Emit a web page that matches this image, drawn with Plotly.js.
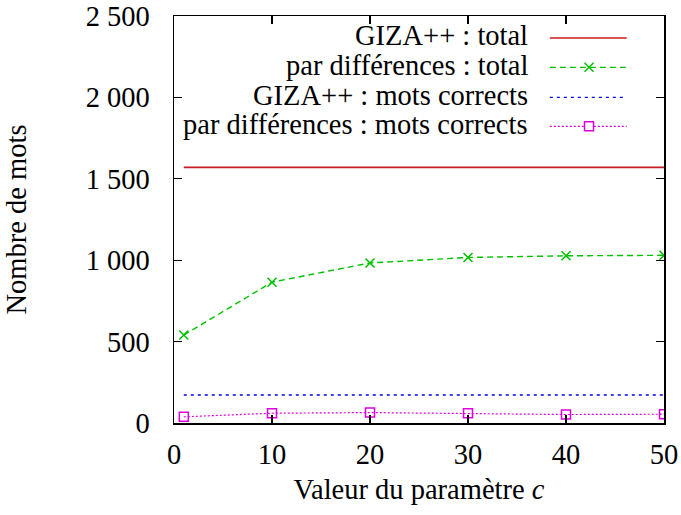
<!DOCTYPE html>
<html>
<head>
<meta charset="utf-8">
<script src="https://cdn.plot.ly/plotly-3.0.1.min.js"></script>
<style>html,body{margin:0;padding:0;background:#fff;}#chart{width:681px;height:515px;}</style>
</head>
<body>
<div id="chart"></div>
<script>
// Data
const cValues = [1, 10, 20, 30, 40, 50];
const gizaTotal = [1570, 1570, 1570, 1570, 1570, 1570];
const diffTotal = [540, 865, 983, 1017, 1027, 1030];
const gizaCorrect = [172, 172, 172, 172, 172, 172];
const diffCorrect = [38, 60, 64, 60, 52, 54];
const seriesNames = [
  "GIZA++ : total",
  "par différences : total",
  "GIZA++ : mots corrects",
  "par différences : mots corrects"
];
const xTickVals = [0, 10, 20, 30, 40, 50];
const yTickVals = [0, 500, 1000, 1500, 2000, 2500];

const FONT = "Liberation Serif";
const FS = 28.5;
const colors = ["#c81e1e", "#00c000", "#0000ee", "#dd00dd"];

const traces = [
  {x: cValues, y: gizaTotal, mode: "lines", name: seriesNames[0],
   line: {color: colors[0], width: 1.6, dash: "solid"}},
  {x: cValues, y: diffTotal, mode: "lines+markers", name: seriesNames[1],
   line: {color: colors[1], width: 1.4, dash: "6px,4px"},
   marker: {symbol: "x-thin-open", size: 9, color: colors[1], line: {color: colors[1], width: 1.5}}},
  {x: cValues, y: gizaCorrect, mode: "lines", name: seriesNames[2],
   line: {color: colors[2], width: 1.4, dash: "3px,4px"}},
  {x: cValues, y: diffCorrect, mode: "lines+markers", name: seriesNames[3],
   line: {color: colors[3], width: 1.2, dash: "2px,2px"},
   marker: {symbol: "square-open", size: 9, color: colors[3], line: {color: colors[3], width: 1.5}}}
];

// Gnuplot-style legend: right-aligned text with sample on the right
const legRowsY = [0.951, 0.879, 0.805, 0.734];
const legTextX = 0.727;
const sampleX0 = 0.767, sampleX1 = 0.924, sampleMid = 0.847;
const annotations = [];
const shapes = [];
seriesNames.forEach((n, i) => {
  annotations.push({
    xref: "paper", yref: "paper", x: legTextX, y: legRowsY[i],
    xanchor: "right", yanchor: "middle", text: n, showarrow: false,
    font: {family: FONT, size: FS, color: "#000"}
  });
  shapes.push({
    type: "line", xref: "paper", yref: "paper",
    x0: sampleX0, x1: sampleX1, y0: legRowsY[i] - 0.005, y1: legRowsY[i] - 0.005,
    line: {color: colors[i], width: i === 0 ? 1.6 : 1.3, dash: traces[i].line.dash}
  });
});
// legend marker samples (in paper coords, sized in pixels)
const pw = 490, ph = 407;
const mx = 4.5 / pw, my = 4.5 / ph;
const y1 = legRowsY[1] - 0.005, y3 = legRowsY[3] - 0.005;
shapes.push({type: "line", xref: "paper", yref: "paper",
  x0: sampleMid - mx, x1: sampleMid + mx, y0: y1 - my, y1: y1 + my,
  line: {color: colors[1], width: 1.5}});
shapes.push({type: "line", xref: "paper", yref: "paper",
  x0: sampleMid - mx, x1: sampleMid + mx, y0: y1 + my, y1: y1 - my,
  line: {color: colors[1], width: 1.5}});
shapes.push({type: "rect", xref: "paper", yref: "paper",
  x0: sampleMid - mx, x1: sampleMid + mx, y0: y3 - my, y1: y3 + my,
  fillcolor: "#fff", line: {color: colors[3], width: 1.5}});

const layout = {
  width: 681, height: 515,
  margin: {l: 174, r: 17, t: 16, b: 92},
  paper_bgcolor: "#fff", plot_bgcolor: "#fff",
  showlegend: false,
  separators: ", ",
  font: {family: FONT, size: FS, color: "#000"},
  xaxis: {
    range: [0, 50], tickvals: xTickVals, ticks: "inside", ticklen: 8, tickwidth: 1.2,
    tickcolor: "#000", showline: true, linecolor: "#000", linewidth: 1.5, mirror: "ticks",
    showgrid: false, zeroline: false, ticklabelstandoff: 5,
    tickfont: {family: FONT, size: FS},
    title: {text: "Valeur du paramètre <i>c</i>", font: {family: FONT, size: FS}, standoff: 10}
  },
  yaxis: {
    range: [0, 2500], tickvals: yTickVals, ticks: "inside", ticklen: 8, tickwidth: 1.2,
    tickcolor: "#000", showline: true, linecolor: "#000", linewidth: 1.5, mirror: "ticks",
    showgrid: false, zeroline: false, separatethousands: true, ticklabelstandoff: 17,
    tickfont: {family: FONT, size: FS},
    title: {text: "Nombre de mots", font: {family: FONT, size: FS}, standoff: 50}
  },
  annotations: annotations,
  shapes: shapes
};

Plotly.newPlot("chart", traces, layout, {staticPlot: true, displayModeBar: false});
</script>
</body>
</html>
